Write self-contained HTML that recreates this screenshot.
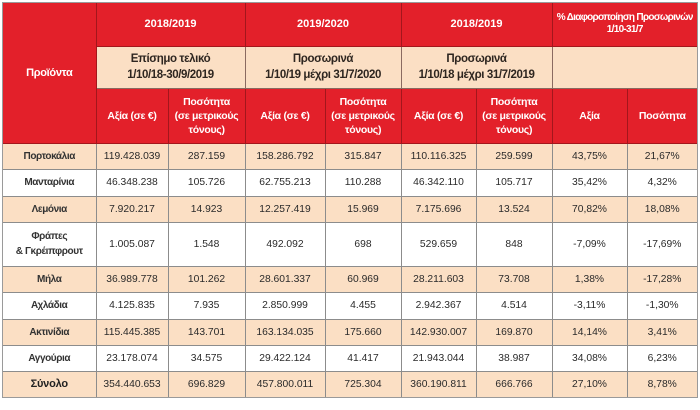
<!DOCTYPE html>
<html><head><meta charset="utf-8">
<style>
html,body{margin:0;padding:0;background:#fff;width:700px;height:410px;overflow:hidden;}
.wrap{position:absolute;left:2px;top:2px;border:1px solid #9a9a9a;width:694px;}
table{border-collapse:collapse;border-style:hidden;table-layout:fixed;width:694px;font-family:"Liberation Sans","DejaVu Sans",sans-serif;}
td{padding:0;text-align:center;vertical-align:middle;border:1px solid #8c8c8c;color:#2a2a2a;font-size:10.3px;white-space:nowrap;overflow:hidden;}
td.r{background:#e3202a;color:#fff;font-weight:bold;border-color:#a3161c;}
td.p{background:#fbdfc4;color:#2e2620;font-weight:bold;font-size:11.5px;line-height:16px;border-color:#8a6a60;letter-spacing:-0.4px;}
.h3 td{font-size:10.5px;line-height:14px;letter-spacing:-0.3px;}
tr.o td{background:#fbdfc4;}
tr.w td{background:#fff;}
td.n{font-weight:bold;color:#333;letter-spacing:-0.4px;font-size:10px;}
tr.t td.n{font-size:11px;color:#222;letter-spacing:-0.2px;}
</style></head><body>
<div class="wrap">
<table>
<colgroup><col style="width:93px"><col style="width:72px"><col style="width:77px"><col style="width:80px"><col style="width:76px"><col style="width:75px"><col style="width:76px"><col style="width:75px"><col style="width:70px"></colgroup>
<tr style="height:43px">
<td class="r" rowspan="3" style="font-size:11px;letter-spacing:-0.3px">Προϊόντα</td>
<td class="r" colspan="2" style="font-size:11px">2018/2019</td>
<td class="r" colspan="2" style="font-size:11px">2019/2020</td>
<td class="r" colspan="2" style="font-size:11px">2018/2019</td>
<td class="r" colspan="2" style="font-size:10px;line-height:12px;letter-spacing:-0.7px">% Διαφοροποίηση Προσωρινών<br>1/10-31/7</td>
</tr>
<tr style="height:42px">
<td class="p" colspan="2">Επίσημο τελικό<br>1/10/18-30/9/2019</td>
<td class="p" colspan="2">Προσωρινά<br>1/10/19 μέχρι 31/7/2020</td>
<td class="p" colspan="2">Προσωρινά<br>1/10/18 μέχρι 31/7/2019</td>
<td class="p" colspan="2"></td>
</tr>
<tr class="h3" style="height:55px">
<td class="r">Αξία (σε €)</td>
<td class="r">Ποσότητα<br>(σε μετρικούς<br>τόνους)</td>
<td class="r">Αξία (σε €)</td>
<td class="r">Ποσότητα<br>(σε μετρικούς<br>τόνους)</td>
<td class="r">Αξία (σε €)</td>
<td class="r">Ποσότητα<br>(σε μετρικούς<br>τόνους)</td>
<td class="r">Αξία</td>
<td class="r">Ποσότητα</td>
</tr>
<tr class="o" style="height:26px"><td class="n">Πορτοκάλια</td><td>119.428.039</td><td>287.159</td><td>158.286.792</td><td>315.847</td><td>110.116.325</td><td>259.599</td><td>43,75%</td><td>21,67%</td></tr>
<tr class="w" style="height:27px"><td class="n">Μανταρίνια</td><td>46.348.238</td><td>105.726</td><td>62.755.213</td><td>110.288</td><td>46.342.110</td><td>105.717</td><td>35,42%</td><td>4,32%</td></tr>
<tr class="o" style="height:26px"><td class="n">Λεμόνια</td><td>7.920.217</td><td>14.923</td><td>12.257.419</td><td>15.969</td><td>7.175.696</td><td>13.524</td><td>70,82%</td><td>18,08%</td></tr>
<tr class="w" style="height:44px"><td class="n" style="line-height:15px">Φράπες<br>&amp; Γκρέιπφρουτ</td><td>1.005.087</td><td>1.548</td><td>492.092</td><td>698</td><td>529.659</td><td>848</td><td>-7,09%</td><td>-17,69%</td></tr>
<tr class="o" style="height:26px"><td class="n">Μήλα</td><td>36.989.778</td><td>101.262</td><td>28.601.337</td><td>60.969</td><td>28.211.603</td><td>73.708</td><td>1,38%</td><td>-17,28%</td></tr>
<tr class="w" style="height:27px"><td class="n">Αχλάδια</td><td>4.125.835</td><td>7.935</td><td>2.850.999</td><td>4.455</td><td>2.942.367</td><td>4.514</td><td>-3,11%</td><td>-1,30%</td></tr>
<tr class="o" style="height:26px"><td class="n">Ακτινίδια</td><td>115.445.385</td><td>143.701</td><td>163.134.035</td><td>175.660</td><td>142.930.007</td><td>169.870</td><td>14,14%</td><td>3,41%</td></tr>
<tr class="w" style="height:26px"><td class="n">Αγγούρια</td><td>23.178.074</td><td>34.575</td><td>29.422.124</td><td>41.417</td><td>21.943.044</td><td>38.987</td><td>34,08%</td><td>6,23%</td></tr>
<tr class="o t" style="height:26px"><td class="n">Σύνολο</td><td>354.440.653</td><td>696.829</td><td>457.800.011</td><td>725.304</td><td>360.190.811</td><td>666.766</td><td>27,10%</td><td>8,78%</td></tr>
</table>
</div>
</body></html>
